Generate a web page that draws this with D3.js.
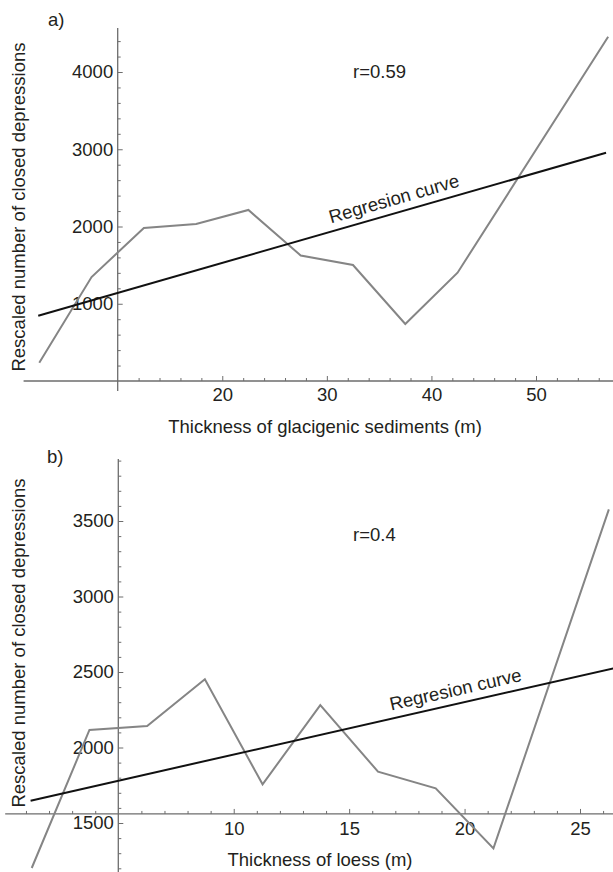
<!DOCTYPE html>
<html>
<head>
<meta charset="utf-8">
<script src="https://cdn.jsdelivr.net/npm/d3@7"></script>
<style>
  body { margin: 0; background: #fff; }
  svg { display: block; font-family: "Liberation Sans", Arial, sans-serif; }
  .tick text { font-size: 18.5px; fill: #231f20; font-family: "Liberation Sans", Arial, sans-serif; }
  .tick line { stroke: #6d6d6d; stroke-width: 1; }
  .label { font-size: 18.5px; fill: #231f20; }
</style>
</head>
<body>
<svg width="613" height="872"></svg>
<script>
// **** data ****

// a) glacigenic sediments
var glacThickness = [2.5, 7.5, 12.5, 17.5, 22.5, 27.5, 32.5, 37.5, 42.5, 56.9];
var glacDepressions = [237, 1346, 1980, 2032, 2214, 1625, 1502, 738, 1402, 4457];
var glacRegX = [2.4, 56.7];
var glacRegY = [845, 2955];
var glacXTicks = [20, 30, 40, 50];
var glacYTicks = [1000, 2000, 3000, 4000];

// b) loess
var loessThickness = [1.25, 3.75, 6.25, 8.75, 11.25, 13.75, 16.25, 18.75, 21.25, 26.25];
var loessDepressions = [1202, 2116, 2142, 2452, 1756, 2281, 1840, 1730, 1332, 3577];
var loessRegX = [1.2, 26.5];
var loessRegY = [1648, 2526];
var loessXTicks = [10, 15, 20, 25];
var loessYTicks = [1500, 2000, 2500, 3000, 3500];

var svg = d3.select('svg');
var W = 613;

// **** helper that draws one panel ****
function drawPanel(p) {
    var g = svg.append('g');
    var x = p.x, y = p.y;

    // axis lines (Mathematica style crossing axes)
    g.append('line').attr('x1', x(p.xStart)).attr('x2', W)
        .attr('y1', y(p.xAxisAt)).attr('y2', y(p.xAxisAt))
        .style('stroke', '#6d6d6d').style('stroke-width', 1.3);
    g.append('line').attr('x1', x(p.yAxisAt)).attr('x2', x(p.yAxisAt))
        .attr('y1', p.yTopPx).attr('y2', p.yBottomPx)
        .style('stroke', '#6d6d6d').style('stroke-width', 1.3);

    // minor ticks
    g.append('g').attr('transform', 'translate(0,' + y(p.xAxisAt) + ')')
        .call(d3.axisBottom(x).tickValues(p.xMinor).tickSizeInner(-3).tickSizeOuter(0).tickFormat(''))
        .call(function (a) { a.select('.domain').remove(); });
    g.append('g').attr('transform', 'translate(' + x(p.yAxisAt) + ',0)')
        .call(d3.axisLeft(y).tickValues(p.yMinor).tickSizeInner(-3).tickSizeOuter(0).tickFormat(''))
        .call(function (a) { a.select('.domain').remove(); });

    // major ticks + labels
    g.append('g').attr('transform', 'translate(0,' + y(p.xAxisAt) + ')')
        .call(d3.axisBottom(x).tickValues(p.xTicks).tickSizeInner(-5).tickSizeOuter(0).tickPadding(p.xPad).tickFormat(d3.format('d')))
        .call(function (a) { a.select('.domain').remove(); });
    g.append('g').attr('transform', 'translate(' + x(p.yAxisAt) + ',0)')
        .call(d3.axisLeft(y).tickValues(p.yTicks).tickSizeInner(-5).tickSizeOuter(0).tickPadding(4.5).tickFormat(d3.format('d')))
        .call(function (a) { a.select('.domain').remove(); });
    g.selectAll('.tick text').style('font-size', '18.5px');

    // data line
    var pts = p.xs.map(function (v, i) { return [v, p.ys[i]]; });
    g.append('path').datum(pts)
        .attr('d', d3.line().x(function (d) { return x(d[0]); }).y(function (d) { return y(d[1]); }))
        .style('fill', 'none').style('stroke', '#858585').style('stroke-width', 2);

    // regression line
    var reg = p.regX.map(function (v, i) { return [v, p.regY[i]]; });
    g.append('path').datum(reg)
        .attr('d', d3.line().x(function (d) { return x(d[0]); }).y(function (d) { return y(d[1]); }))
        .style('fill', 'none').style('stroke', '#111').style('stroke-width', 2);

    // regression label along the line
    var slope = (p.regY[1] - p.regY[0]) / (p.regX[1] - p.regX[0]);
    var lx = p.labelAt, ly = p.regY[0] + slope * (lx - p.regX[0]);
    var ang = Math.atan2(y(p.regY[1]) - y(p.regY[0]), x(p.regX[1]) - x(p.regX[0])) * 180 / Math.PI;
    g.append('text').attr('class', 'label')
        .attr('transform', 'translate(' + x(lx) + ',' + y(ly) + ') rotate(' + ang + ')')
        .attr('dy', -8)
        .text('Regresion curve');

    // r value
    g.append('text').attr('class', 'label')
        .attr('x', p.rPos[0]).attr('y', p.rPos[1])
        .text(p.rText);

    // panel letter
    g.append('text').attr('class', 'label')
        .attr('x', p.letterPos[0]).attr('y', p.letterPos[1])
        .text(p.letter);

    // axis titles
    g.append('text').attr('class', 'label')
        .attr('text-anchor', 'middle')
        .attr('x', p.xTitlePos[0]).attr('y', p.xTitlePos[1])
        .text(p.xTitle);
    g.append('text').attr('class', 'label')
        .attr('text-anchor', 'middle')
        .attr('transform', 'translate(' + p.yTitlePos[0] + ',' + p.yTitlePos[1] + ') rotate(-90)')
        .text('Rescaled number of closed depressions');
}

// **** scales ****
var xA = d3.scaleLinear().domain([10, 50]).range([117.7, 536]);
var yA = d3.scaleLinear().domain([0, 4000]).range([381, 72]);
var xB = d3.scaleLinear().domain([5, 25]).range([118.3, 580]);
var yB = d3.scaleLinear().domain([1500, 3500]).range([823, 521]);

drawPanel({
    x: xA, y: yA,
    xStart: 1.0, xAxisAt: 0, yAxisAt: 10,
    yTopPx: 28, yBottomPx: 391,
    xTicks: glacXTicks, yTicks: glacYTicks,
    xMinor: d3.range(12, 58, 2).filter(function (v) { return v % 10 !== 0; }),
    yMinor: d3.range(200, 4500, 200).filter(function (v) { return v % 1000 !== 0; }),
    xPad: 7,
    xs: glacThickness, ys: glacDepressions,
    regX: glacRegX, regY: glacRegY,
    labelAt: 30.6,
    rText: 'r=0.59', rPos: [353, 78],
    letter: 'a)', letterPos: [48, 26],
    xTitle: 'Thickness of glacigenic sediments (m)', xTitlePos: [325, 433],
    yTitlePos: [25, 207]
});

drawPanel({
    x: xB, y: yB,
    xStart: 0.1, xAxisAt: 1560, yAxisAt: 5,
    yTopPx: 459, yBottomPx: 872,
    xTicks: loessXTicks, yTicks: loessYTicks,
    xMinor: d3.range(1, 27, 1).filter(function (v) { return v % 5 !== 0; }),
    yMinor: d3.range(1200, 3950, 100).filter(function (v) { return v % 500 !== 0; }),
    xPad: 8,
    xs: loessThickness, ys: loessDepressions,
    regX: loessRegX, regY: loessRegY,
    labelAt: 16.9,
    rText: 'r=0.4', rPos: [353, 541],
    letter: 'b)', letterPos: [47, 463],
    xTitle: 'Thickness of loess (m)', xTitlePos: [320, 866],
    yTitlePos: [25, 643]
});
</script>
</body>
</html>
